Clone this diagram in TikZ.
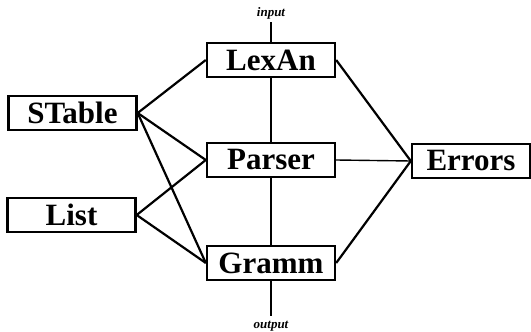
\documentclass[tikz,border=0pt]{standalone}
\usepackage{fontspec}
\setmainfont{Liberation Serif}
\begin{document}
\begin{tikzpicture}[x=1pt,y=-1pt,
  modbox/.style={draw,line width=2.4pt,minimum width=128pt,minimum height=34pt,inner sep=0pt,
    font=\fontsize{31}{32}\selectfont\bfseries},
  link/.style={line width=2.2pt},
  thin link/.style={line width=1.4pt},
  iolabel/.style={font=\fontsize{13}{13}\selectfont\bfseries\itshape,inner sep=0pt}]
\useasboundingbox (0,0) rectangle (531,332);
\node[modbox] (lex) at (271,60) {LexAn};
\node[modbox] (par) at (271,160) {Parser};
\node[modbox] (gra) at (271,263) {Gramm};
\node[modbox] (sta) at (72.5,113) {STable};
\node[modbox] (lis) at (71.5,215) {List};
\node[modbox,minimum width=118pt] (err) at (471,161) {Errors};
\node[iolabel] (in) at (271,13) {input};
\node[iolabel] (out) at (271,326) {output};
\coordinate (inend) at (271,22);
\coordinate (outend) at (271,316);
\draw[thin link] (inend) -- (lex.north);
\draw[thin link] (gra.south) -- (outend);
\draw[thin link] (lex.south) -- (par.north);
\draw[thin link] (par.south) -- (gra.north);
\draw[thin link] (par.east) -- (err.west);
\draw[link] (sta.east) -- (lex.west);
\draw[link] (sta.east) -- (par.west);
\draw[link] (sta.east) -- (gra.west);
\draw[link] (lis.east) -- (par.west);
\draw[link] (lis.east) -- (gra.west);
\draw[link] (lex.east) -- (err.west);
\draw[link] (gra.east) -- (err.west);
\end{tikzpicture}
\end{document}
